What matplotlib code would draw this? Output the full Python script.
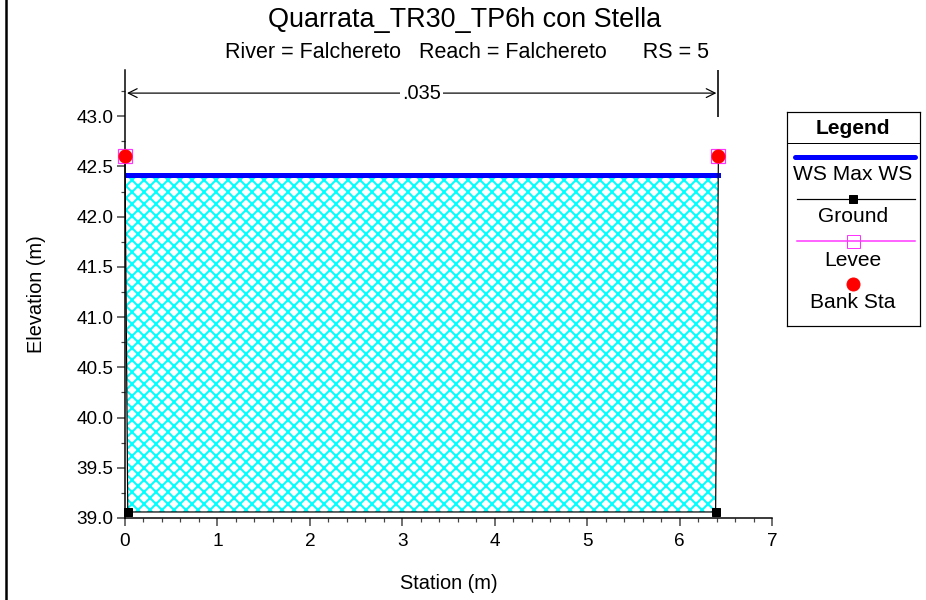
import numpy as np
import matplotlib
matplotlib.use("Agg")
import matplotlib.pyplot as plt
from matplotlib.ticker import MultipleLocator, FormatStrFormatter

# dati della sezione
titolo = "Quarrata_TR30_TP6h con Stella"
sottotitolo = "River = Falchereto   Reach = Falchereto      RS = 5"
ground_x = [0.0, 0.03, 6.39, 6.42]
ground_y = [42.6, 39.06, 39.06, 42.6]
ws_x = [0.0, 6.42]
ws_y = [42.41, 42.41]
levee_x = [0.0, 6.42]
levee_y = [42.6, 42.6]
bank_x = [0.0, 6.42]
bank_y = [42.6, 42.6]
mann_n = ".035"
mann_x = [0.0, 6.42]
mann_y = 43.23

plt.rcParams['font.family'] = ['Liberation Sans', 'DejaVu Sans']
plt.rcParams['hatch.linewidth'] = 2.0
plt.rcParams['hatch.color'] = '#00ffff'

# dpi 72: 1 punto = 1 pixel
fig = plt.figure(figsize=(926 / 72, 600 / 72), dpi=72)
ax = fig.add_axes([125 / 926, 1 - 518 / 600, (772 - 125) / 926, (518 - 70) / 600])

# riempimento acqua
gx = np.array(ground_x)
gy = np.array(ground_y)
ws = ws_y[0]
ax.fill_between(gx, np.minimum(gy, ws), ws, facecolor='white', edgecolor='#00ffff',
                hatch='xx', linewidth=0, zorder=1)

ax.plot(ws_x, ws_y, color='#0000ff', lw=5, solid_capstyle='projecting', zorder=3)
ax.plot(ground_x, ground_y, color='black', lw=1.2, marker='s', ms=8, zorder=4, clip_on=False)
ax.plot(levee_x, levee_y, ls='none', marker='s', ms=14, mfc='none', mec='#ff33ff', mew=1.2,
        zorder=5, clip_on=False)
ax.plot(bank_x, bank_y, ls='none', marker='o', ms=13, color='#ff0000', zorder=6, clip_on=False)

# quota del manning
ax.annotate('', xy=(mann_x[0], mann_y), xytext=(mann_x[1], mann_y),
            arrowprops=dict(arrowstyle='<->', color='black', lw=1.2, mutation_scale=22), zorder=5)
ax.text((mann_x[0] + mann_x[1]) / 2, mann_y, mann_n, ha='center', va='center', fontsize=20,
        bbox=dict(facecolor='white', edgecolor='none', pad=2), zorder=6)
ax.plot([mann_x[1], mann_x[1]], [43.0, 43.45], color='#333333', lw=2, clip_on=False, zorder=5)

ax.set_xlim(0, 7)
ax.set_ylim(39, 43.46)
ax.xaxis.set_major_locator(MultipleLocator(1))
ax.xaxis.set_minor_locator(MultipleLocator(0.2))
ax.yaxis.set_minor_locator(MultipleLocator(0.25))
ax.set_yticks(np.arange(39.0, 43.01, 0.5))
ax.yaxis.set_major_formatter(FormatStrFormatter('%.1f'))
ax.tick_params(which='major', length=8, width=1.5, labelsize=19, direction='out', color='#444444')
ax.tick_params(axis='x', which='major', pad=7)
ax.tick_params(which='minor', length=4, width=1.2, direction='out', color='#444444')
for s in ['top', 'right']:
    ax.spines[s].set_visible(False)
for s in ['left', 'bottom']:
    ax.spines[s].set_linewidth(1.5)

ax.set_xlabel('Station (m)', fontsize=20, labelpad=24)
ax.set_ylabel('Elevation (m)', fontsize=20, labelpad=30)

fig.text(465 / 926, 1 - 20 / 600, titolo, ha='center', va='center', fontsize=27)
fig.text(467 / 926, 1 - 53 / 600, sottotitolo, ha='center', va='center', fontsize=21.5)

# bordo sinistro
fig.add_artist(plt.Line2D([5.5 / 926, 5.5 / 926], [0, 1], color='black', lw=2.5))

# legenda disegnata a mano
lg = fig.add_axes([787 / 926, 1 - 326 / 600, (920 - 787) / 926, (326 - 112) / 600])
lg.set_xlim(0, 133)
lg.set_ylim(214, 0)
lg.set_xticks([])
lg.set_yticks([])
for s in lg.spines.values():
    s.set_linewidth(1.2)
lg.text(66, 16, 'Legend', ha='center', va='center', fontsize=21, fontweight='bold')
lg.plot([0, 133], [31, 31], color='black', lw=1)
lg.plot([8, 128], [45, 45], color='#0000ff', lw=5, solid_capstyle='round')
lg.text(66, 62, 'WS Max WS', ha='center', va='center', fontsize=21)
lg.plot([10, 66, 128], [87, 87, 87], color='black', lw=1.2, marker='s', ms=8, markevery=[1])
lg.text(66, 105, 'Ground', ha='center', va='center', fontsize=21)
lg.plot([10, 66, 128], [129, 129, 129], color='#ff33ff', lw=1.5, marker='s', ms=13,
        mfc='none', mec='#ff33ff', markevery=[1])
lg.text(66, 149, 'Levee', ha='center', va='center', fontsize=21)
lg.plot([66], [172], ls='none', marker='o', ms=13, color='#ff0000')
lg.text(66, 190, 'Bank Sta', ha='center', va='center', fontsize=21)

fig.savefig('out.png', dpi=72, facecolor='white')
